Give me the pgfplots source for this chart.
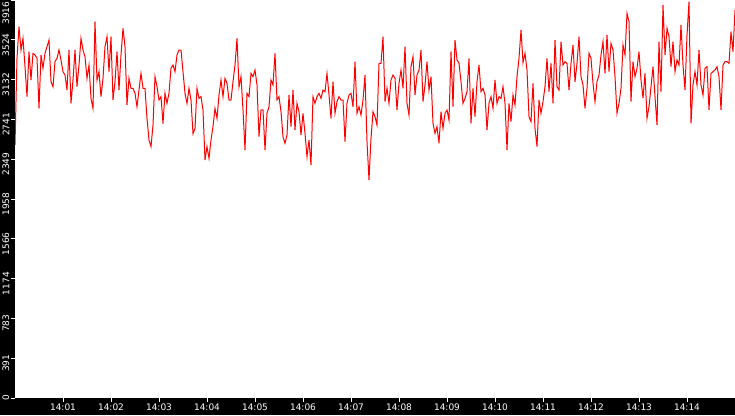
\documentclass[border=0pt]{standalone}
\usepackage{pgfplots}
\pgfplotsset{compat=1.18}
\usepackage{fontspec}
\setmainfont{DejaVu Sans}
\usetikzlibrary{backgrounds}

\begin{document}
\begin{tikzpicture}
\begin{axis}[
    scale only axis,
    width=720pt, height=398pt,
    xmin=0, xmax=900,
    ymin=0, ymax=3916,
    axis line style={draw=none},
    tick pos=left,
    tick align=outside,
    major tick length=4pt,
    tick style={white, line width=0.8pt},
    xtick={60,120,180,240,300,360,420,480,540,600,660,720,780,840},
    xticklabels={14:01,14:02,14:03,14:04,14:05,14:06,14:07,14:08,14:09,14:10,14:11,14:12,14:13,14:14},
    ytick={0,391.6,783.2,1174.8,1566.4,1958,2349.6,2741.2,3132.8,3524.4,3916},
    yticklabels={0,\hspace*{-10pt}391,\hspace*{-10pt}783,\hspace*{-10pt}1174,\hspace*{-10pt}1566,\hspace*{-10pt}1958,\hspace*{-10pt}2349,\hspace*{-10pt}2741,\hspace*{-10pt}3132,\hspace*{-10pt}3524,\hspace*{-26pt}3916},
    ticklabel style={font=\fontsize{9}{10}\selectfont, text=white},
    xticklabel style={inner sep=1.5pt},
    yticklabel style={rotate=90, anchor=south, inner sep=1.5pt},
]

% one sample every 2.5 s, 14:00:00 to 14:15:00
\addplot[red, line width=1pt, mark=none] coordinates {
(0,2490)(2.5,3342)(5,3654)(7.5,3424)(10,3539)(12.5,3260)(15,2965)(17.5,3408)(20,3129)(22.5,3391)
(25,3375)(27.5,3342)(30,2850)(32.5,3375)(35,3244)(37.5,3391)(40,3457)(42.5,3522)(45,3112)(47.5,3063)
(50,3309)(52.5,3342)(55,3424)(57.5,3326)(60,3211)(62.5,3178)(65,3030)(67.5,3424)(70,2899)(72.5,3129)
(75,3424)(77.5,3063)(80,3276)(82.5,3539)(85,3424)(87.5,3358)(90,3145)(92.5,3276)(95,2948)(97.5,2850)
(100,3703)(102.5,3129)(105,3211)(107.5,2965)(110,3145)(112.5,3457)(115,3555)(117.5,3211)(120,3555)(122.5,2932)
(125,3112)(127.5,3408)(130,3030)(132.5,3375)(135,3637)(137.5,3457)(140,2883)(142.5,3145)(145,3047)(147.5,3047)
(150,2998)(152.5,2866)(155,3030)(157.5,3194)(160,3047)(162.5,3047)(165,2752)(167.5,2538)(170,2473)(172.5,2686)
(175,3162)(177.5,3063)(180,2932)(182.5,2965)(185,2700)(187.5,3000)(190,2900)(192.5,3000)(195,3244)(197.5,3276)
(200,3211)(202.5,3375)(205,3424)(207.5,3424)(210,3211)(212.5,2998)(215,2899)(217.5,3047)(220,2932)(222.5,2600)
(225,2653)(227.5,3047)(230,2948)(232.5,2965)(235,2834)(237.5,2342)(240,2473)(242.5,2358)(245,2538)(247.5,2670)
(250,2850)(252.5,2752)(255,2981)(257.5,3129)(260,2965)(262.5,3145)(265,3096)(267.5,2932)(270,2932)(272.5,3112)
(275,3276)(277.5,3539)(280,3063)(282.5,3162)(285,2834)(287.5,2440)(290,2998)(292.5,2965)(295,3194)(297.5,3162)
(300,3227)(302.5,3080)(305,2571)(307.5,2834)(310,2834)(312.5,2440)(315,2801)(317.5,2866)(320,3129)(322.5,3080)
(325,3391)(327.5,2932)(330,2965)(332.5,2817)(335,2571)(337.5,2506)(340,2588)(342.5,2981)(345,2670)(347.5,3030)
(350,2637)(352.5,2899)(355,2817)(357.5,2588)(360,2801)(362.5,2604)(365,2374)(367.5,2538)(370,2292)(372.5,2965)
(375,2899)(377.5,2965)(380,2998)(382.5,2948)(385,3030)(387.5,3014)(390,3194)(392.5,2981)(395,2752)(397.5,3112)
(400,2801)(402.5,2916)(405,2965)(407.5,2932)(410,2932)(412.5,2522)(415,2899)(417.5,2981)(420,2998)(422.5,2866)
(425,3309)(427.5,2801)(430,2866)(432.5,2784)(435,2932)(437.5,3178)(440,2522)(442.5,2145)(445,2555)(447.5,2817)
(450,2768)(452.5,2686)(455,3293)(457.5,3293)(460,3555)(462.5,2916)(465,3047)(467.5,2899)(470,3129)(472.5,3178)
(475,3145)(477.5,2834)(480,3096)(482.5,3227)(485,3047)(487.5,3457)(490,2899)(492.5,2784)(495,3260)(497.5,3358)
(500,2981)(502.5,3178)(505,3227)(507.5,3424)(510,2916)(512.5,3080)(515,3309)(517.5,3030)(520,3162)(522.5,2702)
(525,2604)(527.5,2670)(530,2506)(532.5,2817)(535,2653)(537.5,2801)(540,2834)(542.5,2735)(545,3408)(547.5,2866)
(550,3522)(552.5,3326)(555,3293)(557.5,3112)(560,2899)(562.5,2948)(565,3014)(567.5,3342)(570,2702)(572.5,3047)
(575,2768)(577.5,3112)(580,3276)(582.5,3014)(585,3047)(587.5,2981)(590,2637)(592.5,2899)(595,2965)(597.5,2850)
(600,3129)(602.5,2899)(605,2965)(607.5,2948)(610,3063)(612.5,2899)(615,2440)(617.5,2899)(620,2719)(622.5,2981)
(625,2883)(627.5,3162)(630,3342)(632.5,3621)(635,3300)(637.5,3391)(640,3227)(642.5,2768)(645,2719)(647.5,3096)
(650,2653)(652.5,2473)(655,2932)(657.5,2801)(660,2916)(662.5,3063)(665,3342)(667.5,3014)(670,3293)(672.5,2899)
(675,3522)(677.5,3063)(680,3030)(682.5,3506)(685,3276)(687.5,3309)(690,3293)(692.5,3030)(695,3293)(697.5,3473)
(700,3112)(702.5,3293)(705,3555)(707.5,3162)(710,3080)(712.5,2850)(715,3047)(717.5,3391)(720,3342)(722.5,3096)
(725,2916)(727.5,3112)(730,3178)(732.5,3375)(735,3506)(737.5,3194)(740,3572)(742.5,3211)(745,3490)(747.5,3424)
(750,3162)(752.5,2801)(755,2899)(757.5,3047)(760,3473)(762.5,3375)(765,3785)(767.5,3703)(770,2916)(772.5,3309)
(775,3162)(777.5,3244)(780,3408)(782.5,3129)(785,2950)(787.5,3194)(790,2752)(792.5,2866)(795,3063)(797.5,3260)
(800,2965)(802.5,2686)(805,3506)(807.5,3014)(810,3867)(812.5,3375)(815,3637)(817.5,3555)(820,3260)(822.5,3506)
(825,3211)(827.5,3326)(830,3276)(832.5,3670)(835,3276)(837.5,3030)(840,3572)(842.5,3900)(845,2702)(847.5,3080)
(850,3211)(852.5,3080)(855,3424)(857.5,3080)(860,2981)(862.5,3244)(865,3260)(867.5,2834)(870,3194)(872.5,3211)
(875,3227)(877.5,3260)(880,3162)(882.5,2834)(885,3276)(887.5,3309)(890,3309)(892.5,3293)(895,3604)(897.5,3408)
(900,3818)
};
\end{axis}

% black frame strips behind the tick labels
\begin{scope}[on background layer]
\fill[black] ([xshift=-15pt,yshift=-17pt]current axis.south west) rectangle (current axis.north west);
\fill[black] ([xshift=-15pt,yshift=-17pt]current axis.south west) rectangle (current axis.south east);
\end{scope}
\pgfresetboundingbox
\path[use as bounding box] ([xshift=-15pt,yshift=-17pt]current axis.south west) rectangle (current axis.north east);
\end{tikzpicture}
\end{document}
